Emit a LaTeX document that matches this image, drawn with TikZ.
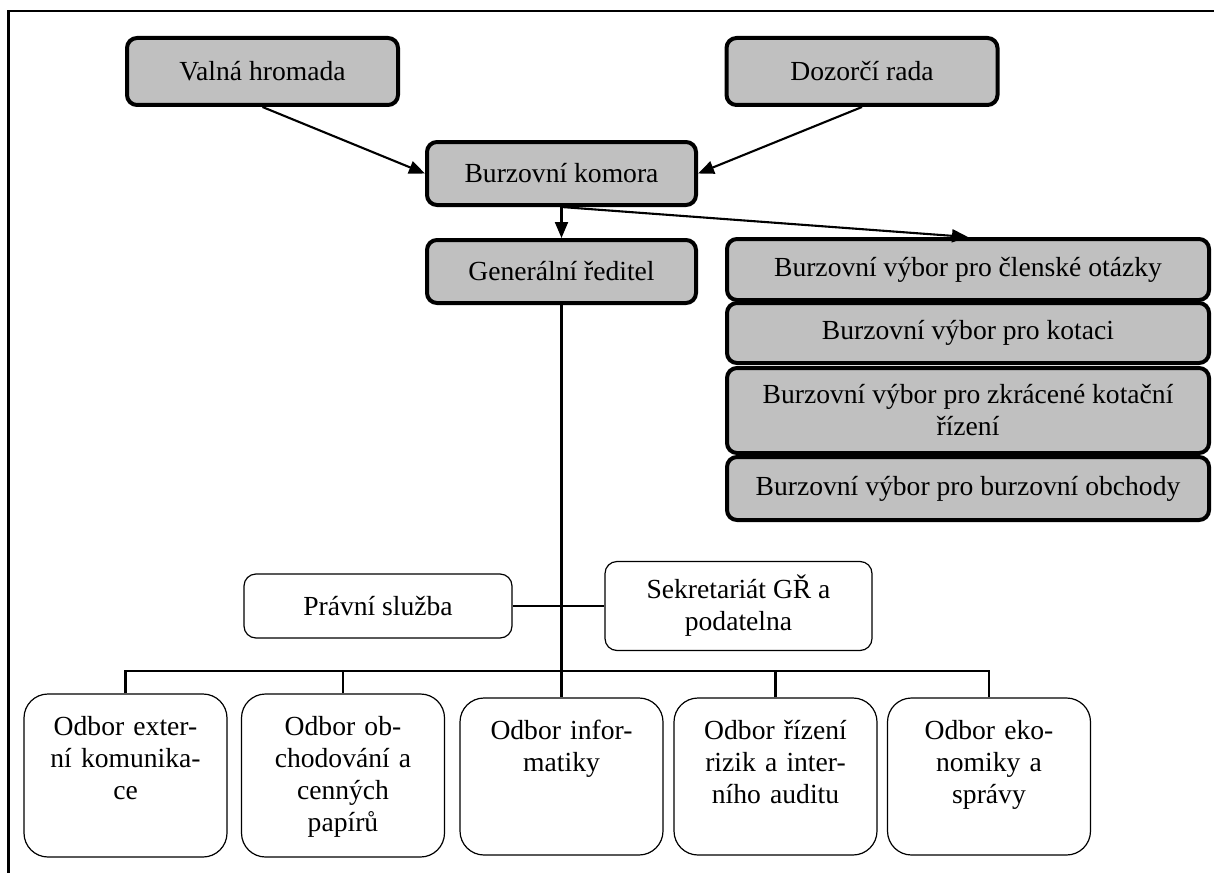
\documentclass[tikz,border=0pt]{standalone}
\usepackage{fontspec}
\setmainfont{Liberation Serif}
\usetikzlibrary{arrows.meta}
\definecolor{boxgray}{HTML}{C0C0C0}
\begin{document}
\begin{tikzpicture}[x=0.5pt,y=-0.5pt,
  every node/.style={font=\fontsize{13.8}{16}\selectfont, inner sep=0pt, align=center},
  board/.style={draw, line width=2pt, fill=boxgray, rounded corners=5pt},
  staff/.style={draw, line width=0.6pt, fill=white, rounded corners=6pt},
  unit/.style={draw, line width=0.6pt, fill=white, rounded corners=12pt, minimum width=101.5pt},
  unittext/.style={anchor=north, text width=98pt},
  link/.style={line width=1.05pt},
  arr/.style={link, -{Triangle[length=8pt,width=6.5pt]}},
]
\useasboundingbox (0,0) rectangle (1214,872);
% page frame, running off the right and bottom edges
\begin{scope}
  \clip (0,0) rectangle (1214,872);
  \draw[line width=1.2pt] (8.5,11) rectangle (1240,900);
\end{scope}

% governing bodies
\node[board, minimum width=135.5pt, minimum height=33.5pt] (valna) at (262.5,71.5) {Valná hromada};
\node[board, minimum width=135.5pt, minimum height=33.5pt] (dozor) at (862,71.5) {Dozorčí rada};
\node[board, minimum width=134.5pt, minimum height=31.5pt] (komora) at (561.5,173.5) {Burzovní komora};
\node[board, minimum width=134.5pt, minimum height=31.5pt] (gr) at (561.5,271.5) {Generální ředitel};

% exchange committees
\node[board, minimum width=241pt, minimum height=30.5pt] (s1) at (968,269.5) {Burzovní výbor pro členské otázky};
\node[board, minimum width=241pt, minimum height=30pt] (s2) at (968,333) {Burzovní výbor pro kotaci};
\node[board, minimum width=241pt, minimum height=42.5pt] (s3) at (968,410.5) {Burzovní výbor pro zkrácené kotační\\řízení};
\node[board, minimum width=241pt, minimum height=31.5pt] (s4) at (968,488.5) {Burzovní výbor pro burzovní obchody};

% staff units
\node[staff, minimum width=134pt, minimum height=32pt] (pravni) at (378,606) {Právní služba};
\node[staff, minimum width=133.5pt, minimum height=44.5pt] (sekr) at (738.5,606) {Sekretariát GŘ a\\podatelna};

% departments
\node[unit, minimum height=81.5pt] (b1) at (125.5,775.5) {};
\node[unit, minimum height=81.5pt] (b2) at (343,775.5) {};
\node[unit, minimum height=78.5pt] (b3) at (561.5,776.5) {};
\node[unit, minimum height=78.5pt] (b4) at (775.5,776.5) {};
\node[unit, minimum height=78.5pt] (b5) at (989,776.5) {};
\node[unittext] (t1) at ([yshift=-9pt]b1.north) {\rule{0pt}{12pt}Odbor exter-\\ní komunika-\\ce};
\node[unittext] (t2) at ([yshift=-9pt]b2.north) {\rule{0pt}{12pt}Odbor ob-\\chodování a\\cenných\\papírů};
\node[unittext] (t3) at ([yshift=-9pt]b3.north) {\rule{0pt}{12pt}Odbor infor-\\matiky};
\node[unittext] (t4) at ([yshift=-9pt]b4.north) {\rule{0pt}{12pt}Odbor řízení\\rizik a inter-\\ního auditu};
\node[unittext] (t5) at ([yshift=-9pt]b5.north) {\rule{0pt}{12pt}Odbor eko-\\nomiky a\\správy};

% connectors
\draw[arr] (valna.south) -- (komora.west);
\draw[arr] (dozor.south) -- (komora.east);
\draw[arr] (komora.south) -- (gr.north);
\draw[arr] (komora.south) -- (s1.north);
\draw[link] (gr.south) -- (b3.north);
\draw[link] (pravni.east) -- (sekr.west);
\coordinate (bus) at (0,671);
\draw[link] (b1.north) -- (b1.north |- bus) -- (b5.north |- bus) -- (b5.north);
\draw[link] (b2.north) -- (b2.north |- bus);
\draw[link] (b4.north) -- (b4.north |- bus);
\end{tikzpicture}
\end{document}
